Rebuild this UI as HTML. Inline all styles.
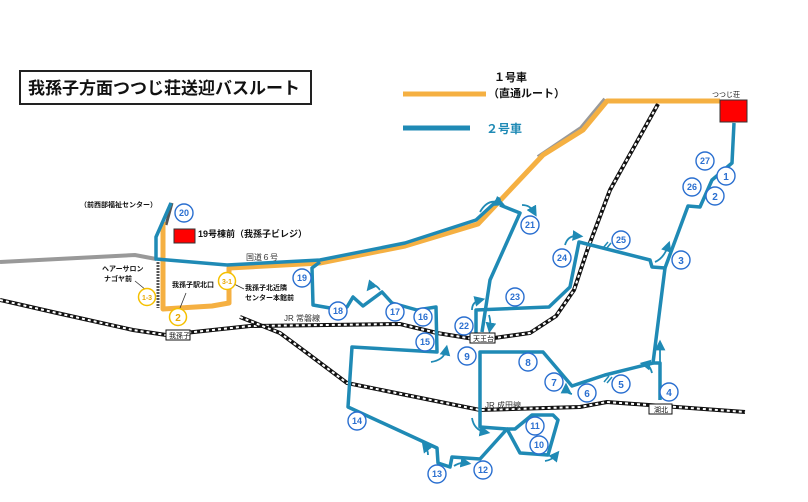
<!DOCTYPE html>
<html><head><meta charset="utf-8"><style>
html,body{margin:0;padding:0;background:#fff}
svg{display:block}
text{font-family:"Liberation Sans","Noto Sans CJK JP",sans-serif}
</style></head><body>
<svg width="808" height="502" viewBox="0 0 808 502" xmlns="http://www.w3.org/2000/svg">
<defs>
<marker id="ah" markerWidth="6" markerHeight="6" refX="3" refY="3" orient="auto"><path d="M0,0 L6,3 L0,6 z" fill="#1f8ab5"/></marker>
</defs>
<rect width="808" height="502" fill="#fff"/>
<rect x="20" y="71" width="291" height="33" fill="#fff" stroke="#222" stroke-width="2"/>
<text x="28" y="94" font-size="17" font-weight="bold" fill="#111">我孫子方面つつじ荘送迎バスルート</text>
<line x1="403" y1="94" x2="486" y2="94" stroke="#f5b042" stroke-width="5"/>
<text x="494" y="81" font-size="11" font-weight="bold" fill="#111">１号車</text>
<text x="488" y="97" font-size="11" font-weight="bold" fill="#111">（直通ルート）</text>
<line x1="403" y1="128" x2="470" y2="128" stroke="#1f8ab5" stroke-width="5"/>
<text x="486" y="133" font-size="12" font-weight="bold" fill="#1f8ab5">２号車</text>

<polyline points="0,262 135,255 156,259" fill="none" stroke="#999" stroke-width="4"/>
<polyline points="538,157 581,128 605,99" fill="none" stroke="#999" stroke-width="4"/>
<line x1="158" y1="262" x2="158" y2="308" stroke="#555" stroke-width="3" stroke-dasharray="2,1"/>
<line x1="172" y1="203" x2="166" y2="225" stroke="#555" stroke-width="3"/>
<line x1="229" y1="270" x2="229" y2="300" stroke="#555" stroke-width="3"/>

<g fill="none">
<polyline points="0,300 57,313 133,330 166,335 250,326 400,324 437,333 480,340 530,333 556,316 574,290 588,248 610,190 658,104" stroke="#111" stroke-width="4"/>
<polyline points="0,300 57,313 133,330 166,335 250,326 400,324 437,333 480,340 530,333 556,316 574,290 588,248 610,190 658,104" stroke="#fff" stroke-width="2" stroke-dasharray="3,3"/>
<polyline points="240,317 280,333 307,353 347,383 480,410 580,407 607,402 745,412" stroke="#111" stroke-width="4"/>
<polyline points="240,317 280,333 307,353 347,383 480,410 580,407 607,402 745,412" stroke="#fff" stroke-width="2" stroke-dasharray="3,3"/>
</g>

<polyline points="720,101 607,101 583,130 543,155 478,224 405,246 320,263 229,268 229,303 212,306 163,309 163,222" fill="none" stroke="#f5b042" stroke-width="5" stroke-linejoin="round"/>

<g fill="none" stroke="#1f8ab5" stroke-width="3.5" stroke-linejoin="round">
<polyline points="171,203 156,237 156,259 227,265 320,260 405,243 476,220 500,198"/>
<polyline points="500,205 520,213 490,280 482,332"/>
<polyline points="476,333 476,310 549,307 570,287 579,242 650,260 652,267 665,268 688,206 700,207 712,180 732,163 734,123"/>
<polyline points="665,268 653,363 605,375 572,386 543,352 480,352 480,427 507,429 480,459 452,457 450,467 438,463 437,448 348,407 352,347 437,352 436,307 417,310 392,303 382,292 363,306 353,297 347,307 330,308 313,305 312,268 320,262"/>
<polyline points="653,363 660,363 660,400"/>
<polyline points="507,429 515,429 532,415 553,415 558,420 548,455 520,453 507,429"/>
</g>
<g fill="none" stroke="#1f8ab5" stroke-width="1.8" marker-end="url(#ah)">
<path d="M480,212 Q488,198 500,203"/>
<path d="M522,205 Q530,205 534,212"/>
<path d="M380,290 Q374,282 370,287"/>
<path d="M431,362 Q444,360 446,350"/>
<path d="M472,310 Q472,302 480,300"/>
<path d="M489,315 Q491,322 490,328"/>
<path d="M565,245 Q568,235 578,236"/>
<path d="M655,262 Q664,258 668,246"/>
<path d="M660,363 Q660,350 660,345"/>
<path d="M652,373 Q650,365 645,364"/>
<path d="M572,394 Q566,393 566,388"/>
<path d="M472,418 Q474,430 485,432"/>
<path d="M428,455 Q428,450 425,446"/>
<path d="M454,466 Q460,462 466,463"/>
<path d="M545,461 Q552,460 556,455"/>
</g>
<g stroke="#1f8ab5" stroke-width="1.5">
<line x1="603" y1="248" x2="608" y2="242"/><line x1="606" y1="249" x2="611" y2="243"/>
<line x1="604" y1="382" x2="609" y2="376"/><line x1="607" y1="383" x2="612" y2="377"/>
</g>

<rect x="174" y="229" width="21" height="14" fill="#f00" stroke="#333"/>
<rect x="720" y="100" width="27" height="22" fill="#f00" stroke="#333"/>

<g font-size="7" fill="#111">
<rect x="166" y="330" width="24" height="10" fill="#fff" stroke="#111"/><text x="169" y="338">我孫子</text>
<rect x="470" y="333" width="25" height="10" fill="#fff" stroke="#111"/><text x="473" y="341">天王台</text>
<rect x="649" y="404" width="23" height="10" fill="#fff" stroke="#111"/><text x="654" y="412">湖北</text>
</g>

<g font-size="7" fill="#111" font-weight="bold">
<text x="80" y="207">（前西部福祉センター）</text>
<text x="102" y="271">ヘアーサロン</text>
<text x="104" y="281">ナゴヤ前</text>
<text x="172" y="287">我孫子駅北口</text>
<text x="245" y="290">我孫子北近隣</text>
<text x="245" y="300">センター本館前</text>
<text x="712" y="97" font-weight="normal">つつじ荘</text>
</g>
<text x="198" y="237" font-size="9" font-weight="bold" fill="#111">19号棟前（我孫子ビレジ）</text>
<g font-size="8" fill="#333">
<text x="246" y="260">国道６号</text>
<text x="284" y="321">JR 常磐線</text>
<text x="485" y="408">JR 成田線</text>
</g>
<g stroke="#333" stroke-width="0.8">
<line x1="135" y1="281" x2="146" y2="290"/>
<line x1="186" y1="293" x2="180" y2="308"/>
<line x1="234" y1="284" x2="244" y2="289"/>
</g>

<g fill="#fff" stroke="#f5c000" stroke-width="1.5">
<circle cx="147" cy="297" r="8.5"/><circle cx="178" cy="317" r="8.5"/><circle cx="227" cy="281" r="8.5"/>
</g>
<g font-size="7" font-weight="bold" fill="#e8a800" text-anchor="middle">
<text x="147" y="300">1-3</text><text x="178" y="321" font-size="10">2</text><text x="227" y="284">3-1</text>
</g>

<g fill="#fff" stroke="#2a6fd0" stroke-width="1.4">
<circle cx="184" cy="213" r="9"/><circle cx="302" cy="278" r="9"/><circle cx="338" cy="311" r="9"/>
<circle cx="395" cy="312" r="9"/><circle cx="423" cy="317" r="9"/><circle cx="425" cy="342" r="9"/>
<circle cx="464" cy="326" r="9"/><circle cx="467" cy="356" r="9"/><circle cx="530" cy="225" r="9"/>
<circle cx="515" cy="297" r="9"/><circle cx="562" cy="258" r="9"/><circle cx="621" cy="240" r="9"/>
<circle cx="681" cy="260" r="9"/><circle cx="705" cy="161" r="9"/><circle cx="726" cy="176" r="9"/>
<circle cx="692" cy="187" r="9"/><circle cx="715" cy="196" r="9"/><circle cx="528" cy="362" r="9"/>
<circle cx="554" cy="382" r="9"/><circle cx="587" cy="393" r="9"/><circle cx="621" cy="384" r="9"/>
<circle cx="669" cy="392" r="9"/><circle cx="357" cy="421" r="9"/><circle cx="437" cy="474" r="9"/>
<circle cx="483" cy="470" r="9"/><circle cx="535" cy="426" r="9"/><circle cx="539" cy="445" r="9"/>
</g>
<g font-size="9" font-weight="bold" fill="#2a6fd0" text-anchor="middle">
<text x="184" y="216">20</text><text x="302" y="281">19</text><text x="338" y="314">18</text>
<text x="395" y="315">17</text><text x="423" y="320">16</text><text x="425" y="345">15</text>
<text x="464" y="329">22</text><text x="467" y="360" font-size="10">9</text><text x="530" y="228">21</text>
<text x="515" y="300">23</text><text x="562" y="261">24</text><text x="621" y="243">25</text>
<text x="681" y="264" font-size="10">3</text><text x="705" y="164">27</text><text x="726" y="180" font-size="10">1</text>
<text x="692" y="190">26</text><text x="715" y="200" font-size="10">2</text><text x="528" y="366" font-size="10">8</text>
<text x="554" y="386" font-size="10">7</text><text x="587" y="397" font-size="10">6</text><text x="621" y="388" font-size="10">5</text>
<text x="669" y="396" font-size="10">4</text><text x="357" y="424">14</text><text x="437" y="477">13</text>
<text x="483" y="473">12</text><text x="535" y="429">11</text><text x="539" y="448">10</text>
</g>
</svg>
</body></html>
